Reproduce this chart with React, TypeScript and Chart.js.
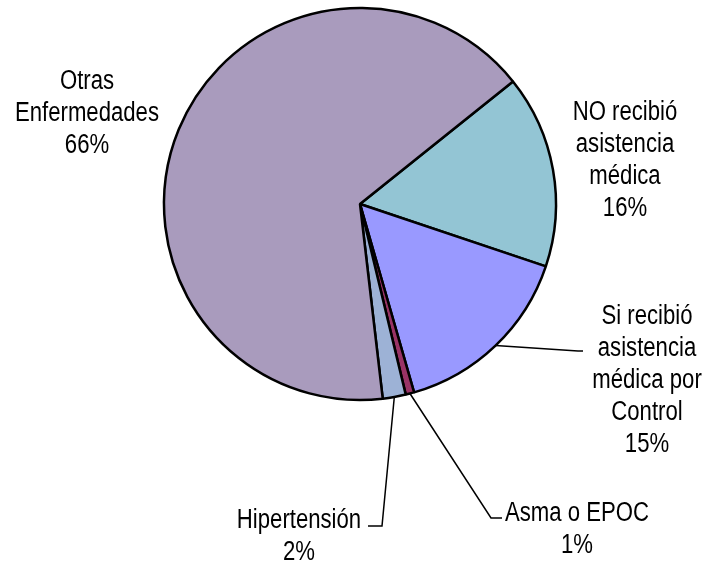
import React, { useEffect, useRef } from "react";
import { Chart, registerables } from "chart.js";

Chart.register(...registerables);

const categories = [
  "NO recibió asistencia médica",
  "Si recibió asistencia médica por Control",
  "Asma o EPOC",
  "Hipertensión",
  "Otras Enfermedades",
];
const values = [15.9, 15.4, 0.7, 1.9, 66.1];
const percentLabels = ["16%", "15%", "1%", "2%", "66%"];
const labelLines = [
  ["NO recibió", "asistencia", "médica"],
  ["Si recibió", "asistencia", "médica por", "Control"],
  ["Asma o EPOC"],
  ["Hipertensión"],
  ["Otras", "Enfermedades"],
];
const colors = ["#93C5D4", "#9999FF", "#993366", "#9DB2D6", "#A99BBD"];

// layout of the label blocks: [centerX, baseline of first line, leader elbow, leader end]
const labelLayout: any[] = [
  { x: 625, y: 120 },
  { x: 647, y: 324, elbow: [578, 351], end: [583, 351] },
  { x: 577, y: 521, elbow: [491, 518], end: [502, 518] },
  { x: 299, y: 528, elbow: [382, 526], end: [368, 526] },
  { x: 87, y: 89 },
];

const FONT_SIZE = 27;
const LINE_H = 32;

const labelPlugin = {
  id: "pieLabels",
  afterDatasetsDraw(chart: any) {
    const ctx = chart.ctx;
    const meta = chart.getDatasetMeta(0);
    ctx.save();
    ctx.font = `${FONT_SIZE}px 'Liberation Sans Narrow', 'Arial Narrow', 'Liberation Sans', Arial, sans-serif`;
    const wNarrow = ctx.measureText("Enfermedades").width;
    ctx.font = `${FONT_SIZE}px 'Liberation Sans', Arial, sans-serif`;
    const wReg = ctx.measureText("Enfermedades").width;
    const hasNarrow = wNarrow < wReg * 0.95;
    const sx = hasNarrow ? 1 : 0.82;
    const font = hasNarrow
      ? `${FONT_SIZE}px 'Liberation Sans Narrow', 'Arial Narrow', sans-serif`
      : `${FONT_SIZE}px 'Liberation Sans', Arial, sans-serif`;

    meta.data.forEach((arc: any, i: number) => {
      const L = labelLayout[i];
      if (L.elbow) {
        const { x, y, startAngle, endAngle, outerRadius } = arc.getProps(
          ["x", "y", "startAngle", "endAngle", "outerRadius"],
          true
        );
        const mid = (startAngle + endAngle) / 2;
        const ax = x + Math.cos(mid) * outerRadius;
        const ay = y + Math.sin(mid) * outerRadius;
        ctx.beginPath();
        ctx.strokeStyle = "#000";
        ctx.lineWidth = 1.5;
        ctx.moveTo(ax, ay);
        ctx.lineTo(L.elbow[0], L.elbow[1]);
        ctx.lineTo(L.end[0], L.end[1]);
        ctx.stroke();
      }
      const lines = [...labelLines[i], percentLabels[i]];
      ctx.fillStyle = "#000";
      ctx.font = font;
      ctx.textAlign = "center";
      ctx.textBaseline = "alphabetic";
      lines.forEach((t, k) => {
        ctx.save();
        ctx.translate(L.x, L.y + k * LINE_H);
        ctx.scale(sx, 1);
        ctx.fillText(t, 0, 0);
        ctx.restore();
      });
    });
    ctx.restore();
  },
};

export default function App() {
  const ref = useRef<HTMLCanvasElement | null>(null);
  useEffect(() => {
    if (!ref.current) return;
    const chart = new Chart(ref.current, {
      type: "pie",
      data: {
        labels: categories,
        datasets: [
          {
            data: values,
            backgroundColor: colors,
            borderColor: "#000000",
            borderWidth: 2.5,
            radius: 196,
          } as any,
        ],
      },
      options: {
        animation: false,
        responsive: false,
        rotation: 51.3,
        layout: { padding: { left: 160, right: 152, top: 4, bottom: 157 } },
        plugins: {
          legend: { display: false },
          tooltip: { enabled: false },
        },
      },
      plugins: [labelPlugin],
    });
    return () => chart.destroy();
  }, []);
  return (
    <div style={{ position: "absolute", left: 0, top: 0, width: 712, height: 561, background: "#fff" }}>
      <canvas ref={ref} width={712} height={561} style={{ width: 712, height: 561 }} />
    </div>
  );
}
